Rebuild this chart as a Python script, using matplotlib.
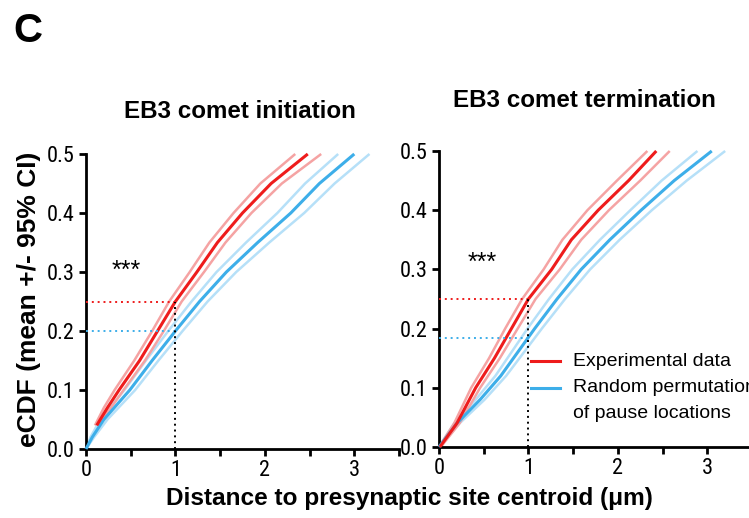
import numpy as np
import matplotlib
matplotlib.use('Agg')
import matplotlib.pyplot as plt

# ECDF curves, stored as distance (um) reached at each cumulative fraction
ini_red_y = [0.04, 0.07, 0.10, 0.15, 0.20, 0.25, 0.30, 0.35, 0.40, 0.45, 0.50]
ini_red_mean = [0.12, 0.24, 0.37, 0.60, 0.80, 1.00, 1.24, 1.47, 1.75, 2.07, 2.48]
ini_red_hi = [0.10, 0.20, 0.32, 0.54, 0.74, 0.93, 1.16, 1.38, 1.65, 1.95, 2.34]
ini_red_lo = [0.14, 0.28, 0.42, 0.66, 0.87, 1.07, 1.32, 1.56, 1.85, 2.19, 2.63]

ini_blue_y = [0.0, 0.02, 0.05, 0.10, 0.15, 0.20, 0.25, 0.30, 0.35, 0.40, 0.45, 0.50]
ini_blue_mean = [0.0, 0.07, 0.20, 0.49, 0.74, 1.00, 1.27, 1.57, 1.92, 2.29, 2.61, 3.00]
ini_blue_hi = [0.0, 0.05, 0.16, 0.43, 0.67, 0.92, 1.18, 1.46, 1.79, 2.14, 2.45, 2.82]
ini_blue_lo = [0.0, 0.09, 0.24, 0.55, 0.81, 1.08, 1.36, 1.68, 2.05, 2.44, 2.78, 3.17]

ter_red_y = [0.0, 0.04, 0.10, 0.15, 0.20, 0.25, 0.30, 0.35, 0.40, 0.45, 0.50]
ter_red_mean = [0.01, 0.20, 0.41, 0.62, 0.81, 1.00, 1.26, 1.48, 1.78, 2.12, 2.43]
ter_red_hi = [0.0, 0.17, 0.36, 0.56, 0.74, 0.93, 1.17, 1.38, 1.66, 1.99, 2.33]
ter_red_lo = [0.02, 0.23, 0.46, 0.68, 0.88, 1.08, 1.35, 1.59, 1.90, 2.25, 2.58]

ter_blue_y = [0.0, 0.04, 0.08, 0.12, 0.16, 0.20, 0.25, 0.30, 0.35, 0.40, 0.45, 0.50]
ter_blue_mean = [0.0, 0.20, 0.46, 0.69, 0.88, 1.07, 1.32, 1.59, 1.91, 2.26, 2.63, 3.05]
ter_blue_hi = [0.0, 0.17, 0.41, 0.63, 0.81, 0.99, 1.23, 1.49, 1.80, 2.14, 2.49, 2.89]
ter_blue_lo = [0.0, 0.23, 0.51, 0.75, 0.95, 1.15, 1.41, 1.69, 2.02, 2.38, 2.77, 3.20]

# eCDF value at 1 um for each condition (dotted guides)
ini_at1 = [0.25, 0.20]
ter_at1 = [0.25, 0.184]

x_ticks = [0, 0.5, 1, 1.5, 2, 2.5, 3, 3.5]
x_ticklabels = ['0', '', '1', '', '2', '', '3', '']
y_ticks = [0.0, 0.1, 0.2, 0.3, 0.4, 0.5]
y_ticklabels = ['0.0', '0.1', '0.2', '0.3', '0.4', '0.5']

RED = '#ee1c1c'
RED_CI = '#f5a3a3'
BLUE = '#3daee9'
BLUE_CI = '#b6e0f8'

TICKFONT = ['Liberation Sans Narrow', 'Roboto Condensed', 'DejaVu Sans']
BOLDFONT = ['Liberation Sans', 'DejaVu Sans']

fig = plt.figure(figsize=(7.49, 5.18), dpi=100)
ax1 = fig.add_axes([0.1148, 0.1332, 0.4179, 0.5695])
ax2 = fig.add_axes([0.5861, 0.1371, 0.4179, 0.5714])

def draw_panel(ax, red, blue, at1, stars_xy):
  for ys, mean, hi, lo, c, cci in [blue + (BLUE, BLUE_CI), red + (RED, RED_CI)]:
    ax.plot(hi, ys, color=cci, lw=1.8, solid_capstyle='butt', zorder=2)
    ax.plot(lo, ys, color=cci, lw=1.8, solid_capstyle='butt', zorder=2)
    ax.plot(mean, ys, color=c, lw=2.2, solid_capstyle='butt', zorder=3)
  ax.plot([0, 1], [at1[0], at1[0]], ls=(0, (1, 2)), color=RED, lw=1.4, zorder=4)
  ax.plot([0, 1], [at1[1], at1[1]], ls=(0, (1, 2)), color=BLUE, lw=1.4, zorder=4)
  ax.plot([1, 1], [0, at1[0]], ls=(0, (1, 2)), color='black', lw=1.4, zorder=4)
  ax.text(stars_xy[0], stars_xy[1], '***', fontsize=18, ha='left', va='baseline',
          family=BOLDFONT)
  ax.set_xlim(0, 3.5)
  ax.set_ylim(0, 0.5)
  ax.set_xticks(x_ticks)
  ax.set_xticklabels(x_ticklabels)
  ax.set_yticks(y_ticks)
  ax.set_yticklabels(y_ticklabels)
  for s in ['top', 'right']:
    ax.spines[s].set_visible(False)
  for s in ['left', 'bottom']:
    ax.spines[s].set_linewidth(2.0)
  ax.tick_params(direction='out', length=5, width=2.0, labelsize=16, pad=3)
  for lab in ax.get_xticklabels() + ax.get_yticklabels():
    lab.set_family(TICKFONT)
    lab.set_fontstretch('condensed')
  for line in ax.lines:
    line.set_clip_on(False)

draw_panel(ax1, (ini_red_y, ini_red_mean, ini_red_hi, ini_red_lo),
           (ini_blue_y, ini_blue_mean, ini_blue_hi, ini_blue_lo), ini_at1, (0.29, 0.29))
draw_panel(ax2, (ter_red_y, ter_red_mean, ter_red_hi, ter_red_lo),
           (ter_blue_y, ter_blue_mean, ter_blue_hi, ter_blue_lo), ter_at1, (0.32, 0.30))

# legend drawn by hand in the right panel
ax2.plot([1.03, 1.35], [0.145, 0.145], color=RED, lw=2.2, clip_on=False)
ax2.plot([1.03, 1.35], [0.100, 0.100], color=BLUE, lw=2.2, clip_on=False)
ax2.text(1.50, 0.145, 'Experimental data', fontsize=14, va='center', family=BOLDFONT)
ax2.text(1.50, 0.100, 'Random permutation', fontsize=14, va='center', family=BOLDFONT)
ax2.text(1.50, 0.057, 'of pause locations', fontsize=14, va='center', family=BOLDFONT)

fig.text(240 / 749, 1 - 111 / 518, 'EB3 comet initiation', fontsize=17.4, fontweight='bold',
         ha='center', va='center', family=BOLDFONT)
fig.text(584 / 749, 1 - 100 / 518, 'EB3 comet termination', fontsize=17.4, fontweight='bold',
         ha='center', va='center', family=BOLDFONT)
fig.text(29 / 749, 1 - 299 / 518, 'eCDF (mean +/- 95% CI)', fontsize=19, fontweight='bold',
         rotation=90, ha='center', va='center', family=BOLDFONT)
fig.text(409 / 749, 1 - 499 / 518, 'Distance to presynaptic site centroid (\u03bcm)', fontsize=17.6,
         fontweight='bold', ha='center', va='center', family=BOLDFONT)
fig.text(28 / 749, 1 - 31 / 518, 'C', fontsize=29, fontweight='bold', ha='center', va='center',
         family=BOLDFONT)

fig.savefig('out.png', dpi=100)
